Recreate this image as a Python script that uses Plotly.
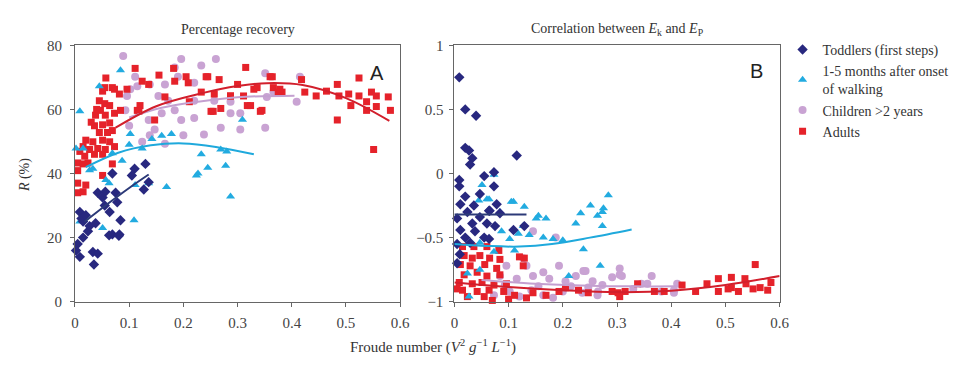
import plotly.graph_objects as go

# ---------------- Panel A: percentage recovery R (%) ----------------
a_tod_x = [0.042, 0.056, 0.069, 0.11, 0.127, 0.009, 0.015, 0.024, 0.015, 0.005, 0.002, 0.009, 0.033, 0.042,
           0.035, 0.055, 0.064, 0.078, 0.084, 0.069, 0.082, 0.075, 0.105, 0.136, 0.051, 0.027, 0.038, 0.063,
           0.081, 0.13, 0.012, 0.02]
a_tod_y = [34, 34.3, 40, 41.5, 35, 28, 25, 22, 20, 18, 16, 14, 15.5, 15,
           11.6, 30, 28, 31, 25.4, 21, 21, 34, 39.4, 37.3, 32.5, 23.6, 24.5, 20.7,
           20.6, 43, 26, 27]

a_mon_x = [0.009, 0.084, 0.045, 0.102, 0.10, 0.124, 0.142, 0.16, 0.178, 0.233, 0.28, 0.278, 0.245, 0.227,
           0.287, 0.169, 0.051, 0.109, 0.136, 0.111, 0.057, 0.063, 0.027, 0.009, 0.015, 0.033, 0.069,
           0.087, 0.002, 0.309, 0.269, 0.224]
a_mon_y = [59.4, 72.2, 67.2, 52.3, 49, 47.8, 50.8, 51.8, 52.3, 46, 46.9, 42.4, 41.8, 40,
           32.8, 35.8, 23, 25.4, 37, 36.4, 38, 37, 41, 25, 47.8, 41.5, 46.3,
           44, 47.8, 56.8, 47.5, 39.4]

a_chi_x = [0.089, 0.196, 0.26, 0.233, 0.184, 0.111, 0.138, 0.166, 0.19, 0.22, 0.154, 0.172, 0.184, 0.196,
           0.16, 0.136, 0.147, 0.124, 0.138, 0.10, 0.093, 0.22, 0.238, 0.269, 0.287, 0.305, 0.305, 0.257,
           0.22, 0.287, 0.351, 0.351, 0.354, 0.366, 0.415, 0.409, 0.096, 0.102, 0.115, 0.166, 0.20]
a_chi_y = [76.7, 75.7, 75.7, 73.7, 73.1, 70.2, 67.8, 67.8, 70.2, 68.3, 64.2, 62.7, 59.7, 56.7,
           58.8, 56.7, 53.7, 49.9, 51.9, 54.9, 59.7, 57.3, 52.2, 54.3, 58.8, 53.7, 58.8, 62.7,
           62.7, 62.4, 71.3, 54.3, 63.9, 65.4, 70.2, 62.4, 64.2, 66.3, 67.2, 49.3, 51.9]

a_adu_x = [0.057, 0.111, 0.124, 0.051, 0.069, 0.082, 0.096, 0.136, 0.155, 0.182, 0.184, 0.205, 0.245, 0.266,
           0.315, 0.36, 0.366, 0.382, 0.233, 0.257, 0.287, 0.30, 0.33, 0.211, 0.251, 0.269, 0.318, 0.345,
           0.147, 0.115, 0.12, 0.166, 0.209, 0.242, 0.364, 0.418, 0.445, 0.464, 0.484, 0.487, 0.505, 0.524,
           0.524, 0.538, 0.509, 0.538, 0.556, 0.556, 0.578, 0.582, 0.547, 0.484, 0.551, 0.424, 0.375, 0.378,
           0.336, 0.342, 0.324, 0.255, 0.287, 0.311,
           0.055, 0.073, 0.045, 0.055, 0.064, 0.047, 0.038, 0.056, 0.073, 0.084, 0.118, 0.036, 0.051, 0.064,
           0.045, 0.06, 0.069, 0.02, 0.033, 0.051, 0.064, 0.015, 0.027, 0.042, 0.056, 0.073, 0.009, 0.018,
           0.036, 0.051, 0.005, 0.024, 0.015, 0.005, 0.005, 0.005, 0.015, 0.02, 0.051, 0.069, 0.03, 0.04]
a_adu_y = [69.8, 72.8, 68.8, 65.7, 66.8, 64.8, 66.3, 67.8, 70.7, 72.8, 68.8, 70.2, 70.2, 69.3,
           73.1, 70.2, 66.8, 65.4, 65.4, 64.8, 64.2, 67.8, 66.3, 62.4, 59.4, 60.3, 61.2, 59.7,
           56.7, 59.7, 61.2, 63.9, 68.3, 70.2, 70.2, 69.3, 64.2, 65.7, 67.8, 64.2, 64.8, 69.8,
           64.2, 62.4, 61.2, 59.7, 64.2, 60.9, 63.9, 59.7, 65.4, 56.7, 47.5, 65.4, 65.4, 66.3,
           66.8, 59.4, 61.2, 59.4, 64.2, 64.2,
           66.8, 66.3, 62.7, 61.8, 61.2, 59.7, 58.2, 58.2, 58.8, 59.7, 59.4, 54.9, 55.2, 55.8,
           52.8, 52.8, 53.4, 50.4, 49.9, 50.4, 49.9, 48.4, 47.5, 47.8, 47.5, 48.4, 46.9, 45.4,
           46, 46, 43.3, 43.3, 43, 40.9, 37, 34, 34.3, 36.4, 39.4, 43, 56, 60]

# fitted trends
a_tod_fx = [0.018, 0.06, 0.10, 0.136]
a_tod_fy = [25, 30.5, 35.5, 39.7]
a_mon_fx = [0.02, 0.08, 0.14, 0.2, 0.26, 0.33]
a_mon_fy = [42, 46.5, 48.8, 49.4, 48.3, 46]
a_chi_fx = [0.10, 0.16, 0.227, 0.30, 0.405]
a_chi_fy = [57.5, 60.5, 62.4, 63.8, 64.3]
a_adu_fx = [0.075, 0.15, 0.233, 0.30, 0.354, 0.42, 0.50, 0.58]
a_adu_fy = [54.3, 61, 65, 67.3, 68.2, 67.6, 63.5, 56.4]

# ---------------- Panel B: correlation between Ek and Ep ----------------
b_tod_x = [0.009, 0.02, 0.04, 0.02, 0.027, 0.033, 0.029, 0.115, 0.009, 0.009, 0.055, 0.073, 0.073, 0.047,
           0.02, 0.011, 0.078, 0.065, 0.036, 0.064, 0.024, 0.047, 0.005, 0.084, 0.033, 0.06, 0.075,
           0.011, 0.038, 0.02, 0.055, 0.109, 0.129, 0.005, 0.029, 0.064, 0.005, 0.01]
b_tod_y = [0.75, 0.5, 0.45, 0.2, 0.18, 0.12, 0.07, 0.14, -0.05, -0.1, -0.02, 0.01, -0.1, -0.16,
           -0.18, -0.24, -0.24, -0.29, -0.25, -0.29, -0.3, -0.34, -0.35, -0.31, -0.39, -0.39, -0.41,
           -0.44, -0.45, -0.5, -0.5, -0.44, -0.41, -0.55, -0.54, -0.51, -0.7, -0.63]

b_mon_x = [0.06, 0.109, 0.155, 0.169, 0.127, 0.233, 0.251, 0.264, 0.273, 0.284, 0.238, 0.269, 0.164, 0.182,
           0.2, 0.211, 0.051, 0.073, 0.064, 0.105, 0.129, 0.084, 0.045, 0.151, 0.087, 0.102, 0.118,
           0.138, 0.047, 0.073, 0.111, 0.024, 0.047, 0.027, 0.224, 0.275, 0.273]
b_mon_y = [-0.2, -0.22, -0.33, -0.35, -0.41, -0.31, -0.25, -0.33, -0.3, -0.17, -0.59, -0.72, -0.5, -0.51,
           -0.52, -0.8, -0.09, -0.01, -0.2, -0.22, -0.26, -0.3, -0.21, -0.35, -0.45, -0.51, -0.47,
           -0.48, -0.54, -0.61, -0.6, -0.78, -0.75, -0.96, -0.39, -0.27, -0.41]

b_chi_x = [0.145, 0.187, 0.127, 0.133, 0.145, 0.164, 0.175, 0.193, 0.205, 0.224, 0.242, 0.255, 0.273, 0.291,
           0.305, 0.309, 0.345, 0.364, 0.093, 0.102, 0.12, 0.142, 0.164, 0.182, 0.2, 0.236, 0.264,
           0.382, 0.405, 0.411, 0.084, 0.096, 0.115, 0.073, 0.238, 0.305, 0.356, 0.405, 0.247, 0.265,
           0.155, 0.215, 0.33]
b_chi_y = [-0.45, -0.5, -0.66, -0.72, -0.8, -0.77, -0.82, -0.72, -0.84, -0.8, -0.76, -0.84, -0.87, -0.81,
           -0.74, -0.8, -0.86, -0.8, -0.87, -0.92, -0.96, -0.91, -0.95, -0.97, -0.92, -0.93, -0.95,
           -0.92, -0.93, -0.86, -0.8, -0.72, -0.82, -0.95, -0.76, -0.79, -0.86, -0.91, -0.89, -0.92,
           -0.88, -0.88, -0.9]

b_adu_x = [0.015, 0.036, 0.06, 0.082, 0.018, 0.033, 0.047, 0.065, 0.084, 0.011, 0.029, 0.056, 0.078, 0.018,
           0.042, 0.06, 0.084, 0.009, 0.033, 0.051, 0.073, 0.015, 0.042, 0.064, 0.091, 0.024, 0.055,
           0.096, 0.129, 0.005, 0.111, 0.145, 0.169, 0.193, 0.133, 0.12, 0.127,
           0.205, 0.229, 0.247, 0.291, 0.302, 0.315, 0.305, 0.338, 0.369, 0.387, 0.42, 0.445, 0.466, 0.487,
           0.487, 0.505, 0.511, 0.511, 0.524, 0.536, 0.538, 0.555, 0.551, 0.564, 0.578, 0.584, 0.07, 0.1]
b_adu_y = [-0.57, -0.57, -0.57, -0.6, -0.64, -0.66, -0.64, -0.66, -0.67, -0.71, -0.72, -0.71, -0.74, -0.79,
           -0.77, -0.8, -0.79, -0.85, -0.86, -0.85, -0.87, -0.91, -0.92, -0.91, -0.92, -0.96, -0.96,
           -0.86, -0.66, -0.9, -0.95, -0.93, -0.95, -0.92, -0.97, -0.65, -0.72,
           -0.89, -0.91, -0.93, -0.92, -0.93, -0.92, -0.96, -0.86, -0.92, -0.92, -0.87, -0.92, -0.86, -0.82,
           -0.92, -0.9, -0.81, -0.89, -0.92, -0.82, -0.86, -0.71, -0.9, -0.89, -0.91, -0.85, -0.99, -0.98]

b_tod_fx = [0.0, 0.133]
b_tod_fy = [-0.32, -0.32]
b_mon_fx = [0.0, 0.06, 0.12, 0.18, 0.25, 0.327]
b_mon_fy = [-0.55, -0.565, -0.57, -0.55, -0.5, -0.436]
b_chi_fx = [0.05, 0.15, 0.25, 0.33, 0.41]
b_chi_fy = [-0.83, -0.86, -0.875, -0.88, -0.88]
b_adu_fx = [0.0, 0.1, 0.2, 0.3, 0.4, 0.5, 0.6]
b_adu_fy = [-0.85, -0.885, -0.91, -0.925, -0.915, -0.87, -0.80]

x_ticks = [0, 0.1, 0.2, 0.3, 0.4, 0.5, 0.6]
x_tick_text = ["0", "0.1", "0.2", "0.3", "0.4", "0.5", "0.6"]
a_y_ticks = [0, 20, 40, 60, 80]
b_y_ticks = [-1, -0.5, 0, 0.5, 1]
b_y_tick_text = ["\u22121", "\u22120.5", "0", "0.5", "1"]

groups = ["Toddlers (first steps)", "1-5 months after onset<br>of walking", "Children >2 years", "Adults"]
colors = ["#28287f", "#22abe0", "#c9a3d3", "#e5222a"]
line_colors = ["#2c3a78", "#1fa9dc", "#c4a0d0", "#d21f2c"]
symbols = ["diamond", "triangle-up", "circle", "square"]
sizes = [8, 8, 8, 7]

panelA = [(a_tod_x, a_tod_y, a_tod_fx, a_tod_fy), (a_mon_x, a_mon_y, a_mon_fx, a_mon_fy),
          (a_chi_x, a_chi_y, a_chi_fx, a_chi_fy), (a_adu_x, a_adu_y, a_adu_fx, a_adu_fy)]
panelB = [(b_tod_x, b_tod_y, b_tod_fx, b_tod_fy), (b_mon_x, b_mon_y, b_mon_fx, b_mon_fy),
          (b_chi_x, b_chi_y, b_chi_fx, b_chi_fy), (b_adu_x, b_adu_y, b_adu_fx, b_adu_fy)]

fig = go.Figure()
draw_order = [2, 3, 1, 0]
for panel, (xa, ya, showleg) in [(panelA, ("x", "y", False)), (panelB, ("x2", "y2", True))]:
    for i in draw_order:
        px_, py_, fx, fy = panel[i]
        fig.add_trace(go.Scatter(
            x=px_, y=py_, mode="markers", xaxis=xa, yaxis=ya, name=groups[i],
            legendrank=i + 1, showlegend=showleg, cliponaxis=False,
            marker=dict(symbol=symbols[i], size=sizes[i], color=colors[i], line=dict(width=0))))
    for i in draw_order:
        px_, py_, fx, fy = panel[i]
        fig.add_trace(go.Scatter(
            x=fx, y=fy, mode="lines", xaxis=xa, yaxis=ya, showlegend=False,
            line=dict(color=line_colors[i], width=2, shape="spline")))

serif = "Liberation Serif"
ax_common = dict(showgrid=False, zeroline=False, showline=True, linecolor="#666", linewidth=1,
                 mirror=True, ticks="outside", ticklen=4, tickcolor="#666",
                 tickfont=dict(family=serif, size=15, color="#444"))
ydom = [1 - 307 / 370, 1 - 39 / 370]
fig.update_layout(
    width=968, height=370, margin=dict(l=0, r=0, t=0, b=0),
    paper_bgcolor="white", plot_bgcolor="white",
    xaxis=dict(domain=[72 / 968, 402 / 968], range=[0, 0.6], tickvals=x_ticks, ticktext=x_tick_text,
               ticklabelstandoff=3, **ax_common),
    yaxis=dict(domain=ydom, range=[0, 80], tickvals=a_y_ticks, ticklabelstandoff=5, **ax_common),
    xaxis2=dict(domain=[457 / 968, 787 / 968], range=[0, 0.6], tickvals=x_ticks, ticktext=x_tick_text,
                anchor="y2", ticklabelstandoff=3, **ax_common),
    yaxis2=dict(domain=ydom, range=[-1, 1], tickvals=b_y_ticks, ticktext=b_y_tick_text, anchor="x2",
                ticklabelstandoff=3, **ax_common),
    legend=dict(x=790 / 968, y=1 - 27 / 370, xanchor="left", yanchor="top", bgcolor="rgba(0,0,0,0)",
                font=dict(family=serif, size=14, color="#333"), tracegroupgap=0, itemwidth=30),
    showlegend=True,
    annotations=[
        dict(text="Percentage recovery", x=237 / 968, y=1 - 22 / 370, xref="paper", yref="paper",
             xanchor="center", yanchor="middle", showarrow=False,
             font=dict(family=serif, size=14, color="#333")),
        dict(text="Correlation between <i>E</i><sub>k</sub> and <i>E</i><sub>P</sub>", x=622 / 968,
             y=1 - 22 / 370, xref="paper", yref="paper", xanchor="center", yanchor="middle", showarrow=False,
             font=dict(family=serif, size=14, color="#333")),
        dict(text="A", x=0.557, y=71.5, xref="x", yref="y", xanchor="center", yanchor="middle",
             showarrow=False, font=dict(family="Liberation Sans", size=20, color="#222")),
        dict(text="B", x=0.557, y=0.8, xref="x2", yref="y2", xanchor="center", yanchor="middle",
             showarrow=False, font=dict(family="Liberation Sans", size=20, color="#222")),
        dict(text="Froude number (<i>V</i><sup>2</sup> <i>g</i><sup>\u22121</sup> <i>L</i><sup>\u22121</sup>)",
             x=435 / 968, y=1 - 354 / 370, xref="paper", yref="paper", xanchor="center", yanchor="middle",
             showarrow=False, font=dict(family=serif, size=15, color="#333")),
        dict(text="<i>R</i> (%)", x=22 / 968, y=1 - 175 / 370, xref="paper", yref="paper", xanchor="center",
             yanchor="middle", showarrow=False, textangle=-90,
             font=dict(family=serif, size=14, color="#333")),
    ],
)

fig.write_html("out.html")
